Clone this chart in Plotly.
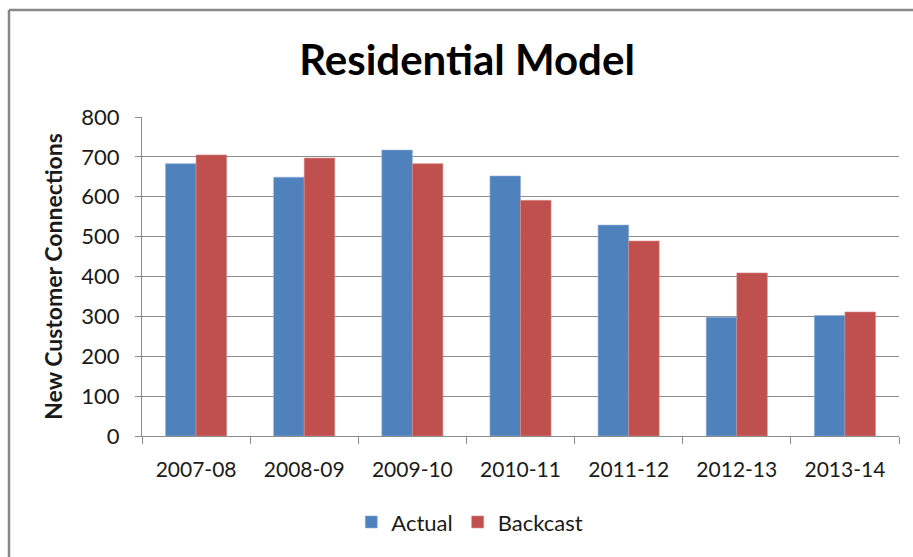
import plotly.graph_objects as go

# data
years = ["2007-08", "2008-09", "2009-10", "2010-11", "2011-12", "2012-13", "2013-14"]
actual = [683, 649, 717, 652, 529, 298, 302]
backcast = [705, 697, 683, 591, 489, 409, 311]

blue = "#4F81BD"
red = "#C0504D"
font = "Lato"

fig = go.Figure()
fig.add_trace(go.Bar(x=years, y=actual, name="Actual",
                     marker=dict(color=blue, line=dict(color="#8fb0d8", width=0.6))))
fig.add_trace(go.Bar(x=years, y=backcast, name="Backcast",
                     marker=dict(color=red, line=dict(color="#d98c8a", width=0.6))))

# chart frame: only the top and left edges show in the picture
frame = dict(color="#888888", width=2.5)
left, top = -0.1757, 1.3354

fig.update_layout(
    width=913, height=557,
    margin=dict(l=142, r=14, t=117, b=121),
    paper_bgcolor="white", plot_bgcolor="white",
    font=dict(family=font, size=21, color="#1a1a1a"),
    title=dict(text="<b>Residential Model</b>", x=0.5115, xanchor="center",
               y=0.892, yanchor="middle", font=dict(size=42, color="black")),
    barmode="group", bargap=0.435, bargroupgap=0,
    showlegend=True,
    legend=dict(orientation="h", x=0.433, xanchor="center", y=-0.27, yanchor="middle",
                font=dict(size=22), itemwidth=30, traceorder="normal"),
    xaxis=dict(type="category", showline=True, linecolor="#8c8c8c", linewidth=1,
               ticks="outside", tickson="boundaries", ticklen=7, tickcolor="#8c8c8c",
               showgrid=False, tickfont=dict(size=21), automargin=False,
               ticklabelstandoff=15),
    yaxis=dict(range=[0, 800], dtick=100, showline=True, linecolor="#8c8c8c", linewidth=1,
               ticks="outside", ticklen=6, tickcolor="#8c8c8c",
               showgrid=True, gridcolor="#8c8c8c", gridwidth=1,
               tickfont=dict(size=22), zeroline=False, automargin=False,
               ticklabelstandoff=11,
               title=dict(text="<b>New Customer Connections</b>", font=dict(size=23),
                          standoff=12)),
    shapes=[
        dict(type="line", xref="paper", yref="paper", x0=left, x1=1.2, y0=top, y1=top,
             line=frame, layer="below"),
        dict(type="line", xref="paper", yref="paper", x0=left, x1=left, y0=-0.6, y1=top,
             line=frame, layer="below"),
    ],
)

# drop the default 8px body margin so the figure fills the window exactly
fig.write_html("out.html", config={"displayModeBar": False},
               post_script="document.body.style.margin = '0';")
